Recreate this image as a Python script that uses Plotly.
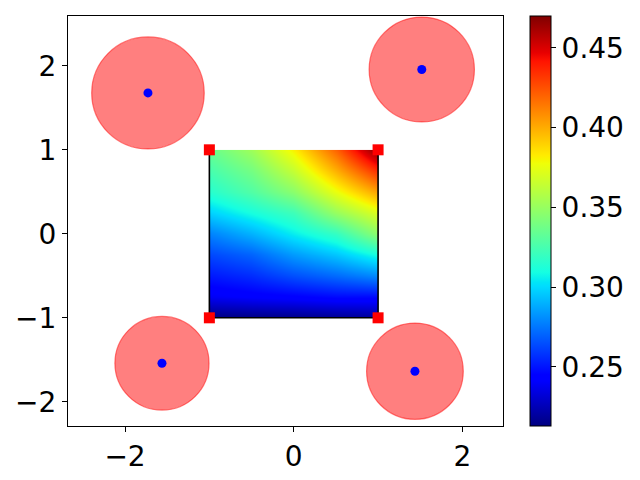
import plotly.graph_objects as go

# ---- data ----
x_grid = [-1.0, -0.5, 0.0, 0.5, 1.0]
y_grid = [-1.0, -0.75, -0.5, -0.25, 0.0, 0.25, 0.5, 0.75, 1.0]
z_vals = [
    [0.213, 0.214, 0.215, 0.217, 0.219],
    [0.239, 0.242, 0.244, 0.247, 0.247],
    [0.251, 0.256, 0.265, 0.272, 0.280],
    [0.263, 0.270, 0.284, 0.295, 0.310],
    [0.278, 0.290, 0.305, 0.319, 0.347],
    [0.298, 0.310, 0.322, 0.350, 0.372],
    [0.315, 0.328, 0.346, 0.376, 0.403],
    [0.325, 0.339, 0.364, 0.399, 0.435],
    [0.335, 0.352, 0.381, 0.420, 0.470],
]
z_min, z_max = 0.213, 0.470
cbar_ticks = [0.25, 0.30, 0.35, 0.40, 0.45]

circle_x = [-1.728, 1.518, -1.562, 1.437]
circle_y = [1.677, 1.956, -1.541, -1.636]
circle_r = [0.667, 0.624, 0.558, 0.573]

corner_x = [-1, 1, -1, 1]
corner_y = [1, 1, -1, -1]

x_ticks = [-2, 0, 2]
y_ticks = [-2, -1, 0, 1, 2]
x_range = [-2.676, 2.481]
y_range = [-2.288, 2.593]

# ---- matplotlib "jet" colormap ----
_jet = {
    "r": [(0, 0), (0.35, 0), (0.66, 1), (0.89, 1), (1, 0.5)],
    "g": [(0, 0), (0.125, 0), (0.375, 1), (0.64, 1), (0.91, 0), (1, 0)],
    "b": [(0, 0.5), (0.11, 1), (0.34, 1), (0.65, 0), (1, 0)],
}


def _interp(pts, t):
    for (t0, v0), (t1, v1) in zip(pts[:-1], pts[1:]):
        if t0 <= t <= t1:
            return v0 + (v1 - v0) * (t - t0) / (t1 - t0) if t1 > t0 else v1
    return pts[-1][1]


_stops = sorted({p[0] for c in _jet.values() for p in c})
jet = []
for t in _stops:
    r, g, b = (int(round(255 * _interp(_jet[c], t))) for c in "rgb")
    jet.append([t, f"rgb({r},{g},{b})"])

FONT = "DejaVu Sans"
FSIZE = 28

fig = go.Figure()

fig.add_trace(go.Contour(
    x=x_grid, y=y_grid, z=z_vals,
    colorscale=jet,
    zmin=z_min, zmax=z_max, zauto=False,
    contours=dict(coloring="heatmap", showlines=False),
    line=dict(width=0),
    ncontours=60,
    colorbar=dict(
        x=1.062, xanchor="left", xpad=0, ypad=0,
        y=0.5, yanchor="middle", len=1, lenmode="fraction",
        thickness=21, outlinewidth=1, outlinecolor="black",
        ticks="outside", ticklen=5, tickcolor="black",
        tickvals=cbar_ticks, tickformat=".2f",
        tickfont=dict(family=FONT, size=FSIZE, color="black"),
    ),
    hoverinfo="skip",
))

# outline of the square (left, bottom, right sides)
fig.add_trace(go.Scatter(
    x=[x_grid[0], x_grid[0], x_grid[-1], x_grid[-1]],
    y=[y_grid[-1], y_grid[0], y_grid[0], y_grid[-1]],
    mode="lines", line=dict(color="black", width=1.6),
    showlegend=False, hoverinfo="skip",
))

# circles
for cx, cy, r in zip(circle_x, circle_y, circle_r):
    fig.add_shape(
        type="circle", xref="x", yref="y",
        x0=cx - r, x1=cx + r, y0=cy - r, y1=cy + r,
        fillcolor="rgba(255,0,0,0.5)",
        line=dict(color="rgba(255,0,0,0.5)", width=1.2),
        layer="below",
    )

fig.add_trace(go.Scatter(
    x=circle_x, y=circle_y, mode="markers",
    marker=dict(color="blue", size=9, line=dict(width=0)),
    showlegend=False, hoverinfo="skip",
))

fig.add_trace(go.Scatter(
    x=corner_x, y=corner_y, mode="markers",
    marker=dict(color="red", size=11, symbol="square", line=dict(width=0)),
    showlegend=False, hoverinfo="skip",
))

axis_common = dict(
    showline=True, mirror=True, linecolor="black", linewidth=1,
    ticks="outside", ticklen=5, tickcolor="black", tickwidth=1,
    showgrid=False, zeroline=False,
    tickfont=dict(family=FONT, size=FSIZE, color="black"),
)

fig.update_layout(
    width=632, height=472,
    margin=dict(l=60, r=137, t=7, b=53),
    paper_bgcolor="white", plot_bgcolor="white",
    font=dict(family=FONT, size=FSIZE, color="black"),
    showlegend=False,
    xaxis=dict(range=x_range, tickvals=x_ticks, **axis_common),
    yaxis=dict(range=y_range, tickvals=y_ticks, **axis_common),
)

fig.write_html("out.html")
